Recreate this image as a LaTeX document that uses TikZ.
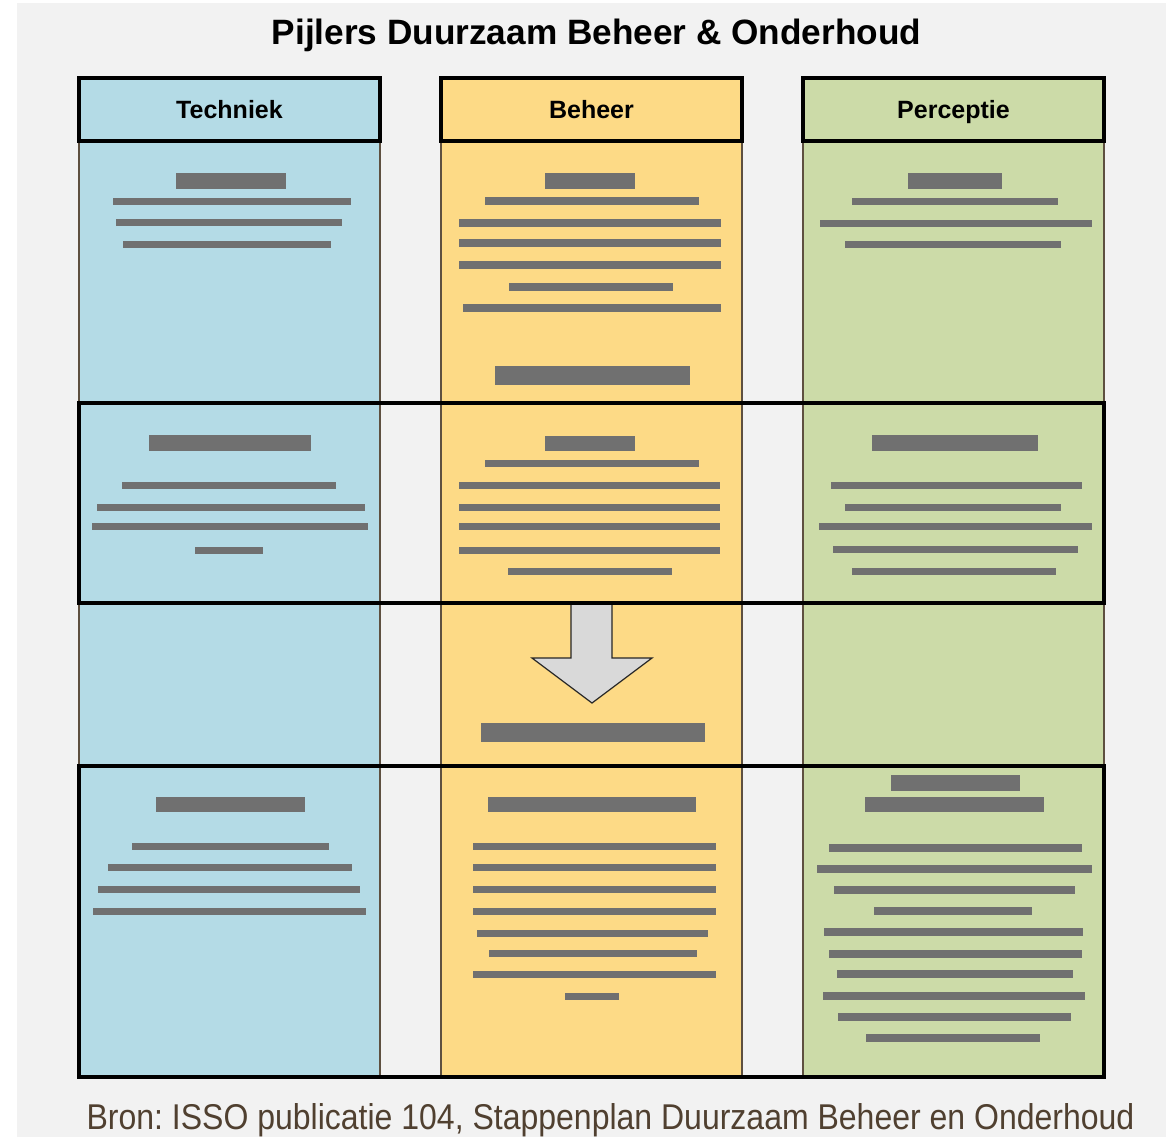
\documentclass[tikz,border=0pt]{standalone}
\usepackage{fontspec}
\setmainfont{Liberation Sans}
\frenchspacing

\definecolor{achtergrond}{HTML}{F2F2F2}
\definecolor{blauw}{HTML}{B4DBE6}
\definecolor{geel}{HTML}{FDDA86}
\definecolor{groen}{HTML}{CCDBA8}
\definecolor{balkgrijs}{HTML}{707070}
\definecolor{pijlgrijs}{HTML}{D9D9D9}
\definecolor{rand}{HTML}{5E5040}
\definecolor{bruin}{HTML}{504030}

\tikzset{
  kolom/.style={draw=rand, line width=1.5pt},
  kopvak/.style={draw=black, line width=3.5pt, minimum width=301pt,
    minimum height=63pt, inner sep=0pt, text height=18pt, text depth=0pt,
    font=\bfseries\fontsize{25}{30}\selectfont},
  rij/.style={draw=black, line width=3.5pt},
  balk/.style={fill=balkgrijs},
  pijl/.style={draw=black!85, fill=pijlgrijs, line width=1.2pt, line join=miter}
}

\begin{document}
\begin{tikzpicture}[x=1pt,y=-1pt]
  \useasboundingbox (0,0) rectangle (1175,1137);
  \clip (0,0) rectangle (1175,1137);
  \fill[achtergrond] (17,3) rectangle (1166,1137);
  % titel
  \node[anchor=base, font=\bfseries\fontsize{35.2}{40}\selectfont]
        (titel) at (596.5,45) {Pijlers Duurzaam Beheer \& Onderhoud};
  % kolommen
  \draw[kolom,fill=blauw] (79,141) rectangle (380,1077);
  \draw[kolom,fill=geel]  (441,141) rectangle (742,1077);
  \draw[kolom,fill=groen] (803,141) rectangle (1104,1077);
  % tekstregels (blokjes)
  \foreach \xa/\xb/\ya/\yb in {
      176/286/173/189, 113/351/198/205, 116/342/219/226, 123/331/241/248,
      149/311/435/451, 122/336/482/489, 97/365/504/511, 92/368/523/530,
      195/263/547/554,
      156/305/797/812, 132/329/843/850, 108/352/864/871, 98/360/886/893,
      93/366/908/915}
    \fill[balk] (\xa,\ya) rectangle (\xb,\yb);
  \foreach \xa/\xb/\ya/\yb in {
      545/635/173/189, 485/699/197/205, 459/721/219/227, 459/721/239/247,
      459/721/261/269, 509/673/283/291, 463/721/304/312, 495/690/366/385,
      545/635/436/451, 485/699/460/467, 459/720/482/489, 459/720/504/511,
      459/720/523/530, 459/720/547/554, 508/672/568/575,
      481/705/723/742,
      488/696/797/812, 473/716/843/850, 473/716/864/871, 473/716/886/893,
      473/716/908/915, 477/708/930/937, 489/697/950/957, 473/716/971/978,
      565/619/993/1000}
    \fill[balk] (\xa,\ya) rectangle (\xb,\yb);
  \foreach \xa/\xb/\ya/\yb in {
      908/1002/173/189, 852/1058/198/205, 820/1092/220/227, 845/1061/241/248,
      872/1038/435/451, 831/1082/482/489, 845/1061/504/511, 819/1092/523/530,
      833/1078/546/553, 852/1056/568/575,
      891/1020/775/791, 865/1044/797/812, 829/1082/844/852, 817/1092/865/873,
      834/1075/886/894, 874/1032/907/915, 824/1083/928/936, 829/1082/950/958,
      837/1073/970/978, 823/1085/992/1000, 838/1071/1013/1021,
      866/1040/1034/1042}
    \fill[balk] (\xa,\ya) rectangle (\xb,\yb);
  % pijl
  \draw[pijl] (571,603) -- (571,658) -- (532,658) -- (592,703)
              -- (652,658) -- (612,658) -- (612,603) -- cycle;
  % koppen
  \node[kopvak,fill=blauw] (techniek)  at (229.5,109.5) {Techniek};
  \node[kopvak,fill=geel]  (beheer)    at (591.5,109.5) {Beheer};
  \node[kopvak,fill=groen] (perceptie) at (953.5,109.5) {Perceptie};
  % rijen
  \draw[rij] (79,403) rectangle (1104,603);
  \draw[rij] (79,766) rectangle (1104,1077);
  % bron
  \node[anchor=base, text=bruin, font=\fontsize{32}{38}\selectfont]
        (bron) at (610.5,1129)
        {\scalebox{1}[1.12]{Bron: ISSO publicatie 104, Stappenplan Duurzaam Beheer en Onderhoud}};
\end{tikzpicture}
\end{document}
